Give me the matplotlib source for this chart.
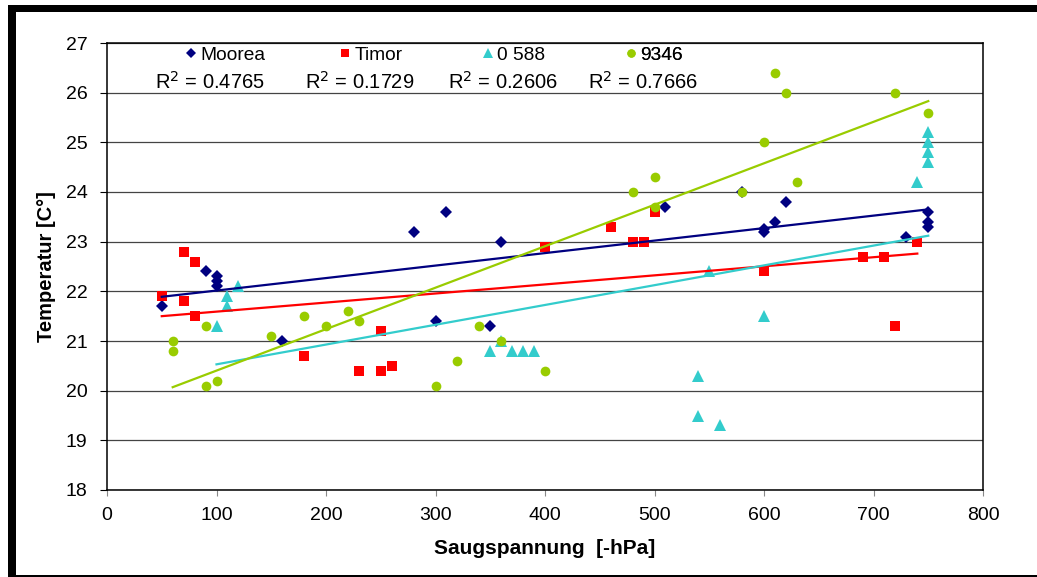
import matplotlib
matplotlib.use("Agg")
import matplotlib.pyplot as plt
from matplotlib.patches import Rectangle
from matplotlib.lines import Line2D

plt.rcParams['font.family'] = ['Liberation Sans', 'DejaVu Sans']

# ---------------- data ----------------
series_names = ["Moorea", "Timor", "0 588", "9346"]

moorea_x = [50, 90, 100, 100, 100, 160, 280, 300, 310, 350, 360, 510, 580,
            600, 600, 610, 620, 730, 750, 750, 750]
moorea_y = [21.7, 22.4, 22.3, 22.2, 22.1, 21.0, 23.2, 21.4, 23.6, 21.3, 23.0, 23.7, 24.0,
            23.2, 23.25, 23.4, 23.8, 23.1, 23.6, 23.4, 23.3]

timor_x = [50, 70, 70, 80, 80, 180, 230, 250, 250, 260, 400, 460, 480, 490, 500,
           600, 690, 710, 720, 740]
timor_y = [21.9, 22.8, 21.8, 22.6, 21.5, 20.7, 20.4, 21.2, 20.4, 20.5, 22.9, 23.3, 23.0, 23.0, 23.6,
           22.4, 22.7, 22.7, 21.3, 23.0]

s0588_x = [100, 110, 110, 120, 350, 360, 370, 380, 390, 540, 540, 550, 560, 600,
           740, 750, 750, 750, 750]
s0588_y = [21.3, 21.9, 21.7, 22.1, 20.8, 21.0, 20.8, 20.8, 20.8, 20.3, 19.5, 22.4, 19.3, 21.5,
           24.2, 25.2, 25.0, 24.8, 24.6]

s9346_x = [60, 60, 90, 90, 100, 150, 180, 200, 220, 230, 300, 320, 340, 360, 400,
           480, 500, 500, 580, 600, 610, 620, 630, 720, 750]
s9346_y = [21.0, 20.8, 21.3, 20.1, 20.2, 21.1, 21.5, 21.3, 21.6, 21.4, 20.1, 20.6, 21.3, 21.0, 20.4,
           24.0, 24.3, 23.7, 24.0, 25.0, 26.4, 26.0, 24.2, 26.0, 25.6]

# linear trend lines (start / end)
trend_moorea_x = [50, 750]
trend_moorea_y = [21.89, 23.65]
trend_timor_x = [50, 740]
trend_timor_y = [21.50, 22.76]
trend_0588_x = [100, 750]
trend_0588_y = [20.53, 23.12]
trend_9346_x = [60, 750]
trend_9346_y = [20.07, 25.83]

r2_labels = ["0.4765", "0.1729", "0.2606", "0.7666"]

x_ticks = [0, 100, 200, 300, 400, 500, 600, 700, 800]
y_ticks = [18, 19, 20, 21, 22, 23, 24, 25, 26, 27]

# ---------------- styling ----------------
colors = ["#000080", "#FF0000", "#33CCCC", "#99CC00"]
markers = ["D", "s", "^", "o"]
msizes = [6.0, 7.0, 8.4, 7.0]

fig = plt.figure(figsize=(10.37, 5.77), dpi=100)
ax = fig.add_axes([107/1037, 1 - 490/577, (983-107)/1037, (490-43)/577])

xs = [moorea_x, timor_x, s0588_x, s9346_x]
ys = [moorea_y, timor_y, s0588_y, s9346_y]
txs = [trend_moorea_x, trend_timor_x, trend_0588_x, trend_9346_x]
tys = [trend_moorea_y, trend_timor_y, trend_0588_y, trend_9346_y]

for x, y, c, m, ms in zip(xs, ys, colors, markers, msizes):
    ax.plot(x, y, linestyle='none', marker=m, markersize=ms, color=c,
            markeredgewidth=0, zorder=3)
for tx, ty, c in zip(txs, tys, colors):
    ax.plot(tx, ty, color=c, linewidth=1.6, zorder=4)

ax.set_xlim(0, 800)
ax.set_ylim(18, 27)
ax.set_xticks(x_ticks)
ax.set_yticks(y_ticks)
ax.tick_params(axis='both', direction='out', length=5, width=0.8, color='#000000',
               labelsize=14)
ax.tick_params(axis='y', pad=9)
ax.tick_params(axis='x', length=4, color='#888888', pad=8)
for sp in ax.spines.values():
    sp.set_color('black')
    sp.set_linewidth(1.1)

ax.yaxis.grid(True, color='#444444', linewidth=0.9)
ax.xaxis.grid(False)
ax.set_axisbelow(True)

ax.set_xlabel("Saugspannung  [-hPa]", fontsize=15, fontweight='bold', labelpad=11)
ax.set_ylabel("Temperatur [C°]", fontsize=14.5, fontweight='bold', labelpad=7)

# legend entries (one per series, spaced as in the original)
leg_x = [(193-107)/876, (347-107)/876, (490-107)/876, (633-107)/876]
leg_ms = [5.0, 6.0, 6.8, 6.0]
for name, c, m, lx, lms in zip(series_names, colors, markers, leg_x, leg_ms):
    h = Line2D([], [], linestyle='none', marker=m, color=c, markersize=lms,
               markeredgewidth=0)
    lg = ax.legend([h], [name], loc='center left', bbox_to_anchor=(lx - 0.008, (490-55)/447),
                   frameon=False, handlelength=0.5, handletextpad=0.25,
                   borderpad=0, borderaxespad=0, fontsize=13.8)
    ax.add_artist(lg)

r2_x = [(155-107)/876, (305-107)/876, (448-107)/876, (588-107)/876]
for lab, rx in zip(r2_labels, r2_x):
    ax.text(rx, (490-82)/447, "R$^2$ = " + lab, transform=ax.transAxes,
            fontsize=14.5, va='center', ha='left', color='black')

# outer black frame like the original picture
fig.add_artist(Rectangle((8/1037, 1 - 12/577), 1 - 8/1037, 7/577, transform=fig.transFigure,
                         facecolor='black', edgecolor='none'))
fig.add_artist(Rectangle((8/1037, 0), 8/1037, 1 - 5/577, transform=fig.transFigure,
                         facecolor='black', edgecolor='none'))
fig.add_artist(Rectangle((8/1037, 0), 1 - 8/1037, 2/577, transform=fig.transFigure,
                         facecolor='black', edgecolor='none'))

fig.savefig("out.png", dpi=100)
